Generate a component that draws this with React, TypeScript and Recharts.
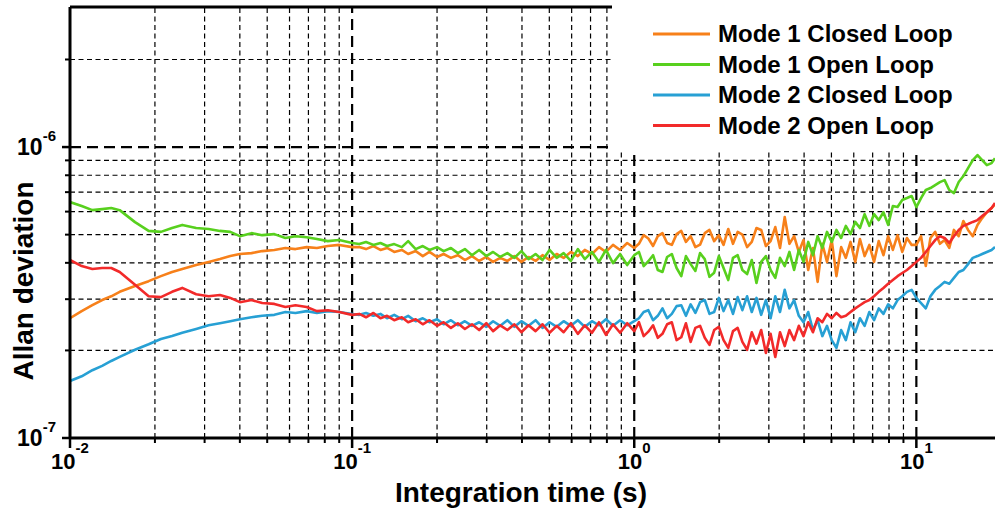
import React from 'react';
import { LineChart, Line, XAxis, YAxis, ReferenceLine } from 'recharts';

/* ─── Data (Allan deviation, values in units of 1e-7) ─── */

const TAU = [
	0.01, 0.011, 0.012, 0.013, 0.014, 0.015, 0.017, 0.019, 0.021, 0.023,
	0.025, 0.028, 0.031, 0.034, 0.037, 0.04, 0.044, 0.048, 0.053, 0.058,
	0.063, 0.069, 0.075, 0.082, 0.09, 0.1,
	0.106, 0.112, 0.119, 0.126, 0.133, 0.141, 0.15, 0.158, 0.168, 0.178,
	0.188, 0.2, 0.211, 0.224, 0.237, 0.251, 0.266, 0.282, 0.299, 0.316,
	0.335, 0.355, 0.376, 0.398, 0.422, 0.447, 0.473, 0.501, 0.531, 0.562,
	0.596, 0.631, 0.668, 0.708, 0.75, 0.794, 0.841, 0.891, 0.944, 1.0,
	1.039, 1.08, 1.122, 1.166, 1.212, 1.259, 1.308, 1.359, 1.413, 1.468,
	1.525, 1.585, 1.647, 1.711, 1.778, 1.848, 1.92, 1.995, 2.073, 2.154,
	2.239, 2.326, 2.417, 2.512, 2.61, 2.712, 2.818, 2.929, 3.043, 3.162,
	3.286, 3.415, 3.548, 3.687, 3.831, 3.981, 4.137, 4.299, 4.467, 4.642,
	4.823, 5.012, 5.208, 5.412, 5.623, 5.843, 6.072, 6.31, 6.556, 6.813,
	7.079, 7.356, 7.644, 7.943, 8.254, 8.577, 8.913, 9.261, 9.624, 10.0,
	10.39, 10.8, 11.22, 11.66, 12.12, 12.59, 13.08, 13.59, 14.13, 14.68,
	15.25, 15.85, 16.47, 17.11, 17.78, 18.48, 19.0,
];

const MODE1_CLOSED = [
	2.58, 2.73, 2.86, 2.98, 3.07, 3.18, 3.33, 3.46, 3.6, 3.72,
	3.81, 3.93, 4.03, 4.12, 4.22, 4.29, 4.32, 4.39, 4.43, 4.5,
	4.46, 4.53, 4.5, 4.57, 4.61, 4.53,
	4.53, 4.46, 4.57, 4.43, 4.5, 4.36, 4.43, 4.29, 4.39, 4.22,
	4.36, 4.19, 4.29, 4.16, 4.25, 4.09, 4.22, 4.06, 4.19, 4.03,
	4.16, 4.06, 4.22, 4.03, 4.19, 4.06, 4.25, 4.09, 4.29, 4.16,
	4.36, 4.22, 4.43, 4.29, 4.53, 4.36, 4.61, 4.43, 4.68, 4.5,
	4.65, 4.98, 4.85, 4.57, 4.94, 5.06, 4.68, 4.61, 5.02, 5.15,
	4.72, 4.94, 4.53, 4.62, 5.06, 5.19, 4.75, 4.98, 4.61, 5.23,
	4.65, 5.11, 5.0, 4.53, 4.72, 5.27, 5.19, 4.57, 4.75, 5.31,
	4.5, 5.75, 4.65, 4.94, 4.36, 4.79, 3.78, 4.5, 3.44, 4.65,
	4.03, 4.79, 3.6, 4.53, 4.16, 4.72, 4.03, 4.83, 4.22, 4.61,
	4.03, 4.75, 4.25, 4.94, 4.43, 4.98, 4.36, 4.87, 4.61, 4.61,
	4.94, 3.9, 4.87, 5.11, 4.65, 4.79, 4.5, 5.19, 4.94, 5.57,
	5.19, 4.94, 5.4, 5.7, 5.97, 6.17, 6.35,
];

const MODE1_OPEN = [
	6.47, 6.27, 6.07, 6.12, 6.17, 6.07, 5.52, 5.15, 5.11, 5.27,
	5.4, 5.27, 5.23, 5.15, 5.11, 4.94, 5.06, 4.98, 5.02, 4.87,
	4.94, 4.9, 4.83, 4.75, 4.79, 4.68,
	4.64, 4.72, 4.61, 4.68, 4.57, 4.64, 4.53, 4.75, 4.46, 4.57,
	4.43, 4.53, 4.39, 4.5, 4.32, 4.46, 4.25, 4.43, 4.22, 4.36,
	4.19, 4.32, 4.16, 4.39, 4.12, 4.29, 4.09, 4.43, 4.16, 4.32,
	4.06, 4.46, 4.12, 4.36, 4.03, 4.43, 3.99, 4.29, 3.93, 4.25,
	4.36, 3.9, 4.05, 4.25, 3.78, 3.72, 4.19, 4.29, 3.84, 3.6,
	4.22, 3.96, 3.75, 4.32, 4.12, 3.58, 3.7, 4.22, 3.84, 3.49,
	4.16, 4.25, 3.78, 3.66, 4.09, 3.41, 4.03, 4.22, 3.78, 3.55,
	4.16, 3.9, 4.36, 3.78, 4.43, 4.03, 4.72, 4.25, 4.94, 4.5,
	5.11, 4.72, 5.19, 4.87, 5.36, 5.02, 5.53, 5.27, 5.88, 5.36,
	5.88, 5.61, 5.97, 5.4, 6.27, 6.22, 6.58, 6.68, 6.79, 6.22,
	6.68, 7.12, 7.23, 7.4, 7.58, 7.7, 7.12, 6.95, 7.58, 7.95,
	8.47, 9.02, 9.39, 9.02, 8.67, 8.81, 9.16,
];

const MODE2_CLOSED = [
	1.57, 1.63, 1.71, 1.77, 1.84, 1.9, 2.01, 2.1, 2.19, 2.24,
	2.3, 2.37, 2.44, 2.48, 2.52, 2.56, 2.6, 2.63, 2.65, 2.71,
	2.69, 2.73, 2.69, 2.73, 2.71, 2.67,
	2.65, 2.69, 2.63, 2.67, 2.58, 2.65, 2.56, 2.63, 2.52, 2.58,
	2.5, 2.56, 2.46, 2.54, 2.44, 2.52, 2.43, 2.5, 2.41, 2.52,
	2.43, 2.54, 2.41, 2.52, 2.43, 2.54, 2.39, 2.5, 2.41, 2.52,
	2.43, 2.54, 2.41, 2.52, 2.44, 2.56, 2.43, 2.54, 2.44, 2.52,
	2.58, 2.71, 2.75, 2.54, 2.63, 2.79, 2.58, 2.67, 2.84, 2.86,
	2.63, 2.88, 2.69, 2.93, 2.98, 2.67, 2.71, 3.03, 2.73, 2.98,
	2.67, 3.05, 2.75, 3.07, 2.71, 3.03, 2.65, 2.98, 2.58, 3.07,
	2.71, 3.23, 2.79, 2.98, 2.63, 2.5, 2.71, 2.35, 2.54, 2.24,
	2.43, 2.17, 2.04, 2.35, 2.17, 2.5, 2.31, 2.58, 2.43, 2.71,
	2.54, 2.79, 2.67, 2.88, 2.79, 2.98, 3.07, 3.18, 3.23, 3.03,
	2.91, 2.79, 3.07, 3.23, 3.33, 3.44, 3.39, 3.55, 3.72, 3.78,
	3.96, 4.16, 4.22, 4.29, 4.36, 4.43, 4.53,
];

const MODE2_OPEN = [
	4.09, 3.9, 3.81, 3.84, 3.84, 3.72, 3.36, 3.07, 3.05, 3.18,
	3.28, 3.12, 3.07, 3.1, 3.03, 2.93, 2.98, 2.91, 2.89, 2.82,
	2.86, 2.82, 2.73, 2.75, 2.71, 2.65,
	2.67, 2.6, 2.69, 2.58, 2.63, 2.54, 2.6, 2.5, 2.56, 2.46,
	2.54, 2.43, 2.5, 2.39, 2.48, 2.37, 2.46, 2.35, 2.48, 2.33,
	2.44, 2.35, 2.46, 2.31, 2.44, 2.33, 2.46, 2.3, 2.43, 2.31,
	2.48, 2.28, 2.44, 2.3, 2.5, 2.26, 2.46, 2.3, 2.48, 2.33,
	2.5, 2.24, 2.32, 2.44, 2.21, 2.28, 2.46, 2.5, 2.17, 2.22,
	2.48, 2.14, 2.39, 2.43, 2.21, 2.09, 2.35, 2.41, 2.17, 2.04,
	2.33, 2.39, 2.14, 2.01, 2.31, 2.11, 2.35, 1.96, 2.28, 1.9,
	2.31, 2.07, 2.35, 2.17, 2.43, 2.24, 2.5, 2.31, 2.58, 2.5,
	2.67, 2.58, 2.69, 2.6, 2.63, 2.71, 2.79, 2.86, 2.93, 2.98,
	3.07, 3.18, 3.28, 3.39, 3.49, 3.6, 3.69, 3.78, 3.9, 4.03,
	4.16, 4.36, 4.57, 4.79, 4.94, 4.87, 4.68, 4.94, 5.19, 5.36,
	5.44, 5.53, 5.61, 5.79, 5.97, 6.17, 6.42,
];

const UNIT = 1e-7;

const SERIES = [
	{ key: 'm1c', name: 'Mode 1 Closed Loop', color: '#F7801A', values: MODE1_CLOSED },
	{ key: 'm1o', name: 'Mode 1 Open Loop', color: '#58D01E', values: MODE1_OPEN },
	{ key: 'm2c', name: 'Mode 2 Closed Loop', color: '#27A0D4', values: MODE2_CLOSED },
	{ key: 'm2o', name: 'Mode 2 Open Loop', color: '#F22A2A', values: MODE2_OPEN },
];

/* ─── Axes / grid ─── */

const X_DOMAIN: [number, number] = [0.01, 19];
const Y_DOMAIN: [number, number] = [1e-7, 3.03e-6];

const X_MAJOR = [0.1, 1, 10];
const X_MINOR = [
	0.02, 0.03, 0.04, 0.05, 0.06, 0.07, 0.08, 0.09,
	0.2, 0.3, 0.4, 0.5, 0.6, 0.7, 0.8, 0.9,
	2, 3, 4, 5, 6, 7, 8, 9,
];
const X_TICKS = [0.01, ...X_MINOR, ...X_MAJOR].sort((a, b) => a - b);

const Y_MAJOR = [1e-6];
const Y_MINOR = [2e-7, 3e-7, 4e-7, 5e-7, 6e-7, 7e-7, 8e-7, 9e-7, 2e-6];
const Y_TICKS = [1e-7, ...Y_MINOR, ...Y_MAJOR].sort((a, b) => a - b);

const FONT = '"Liberation Sans", Arial, sans-serif';
const GRID = '#000';

const data = TAU.map((tau, i) => {
	const row: Record<string, number> = { tau };
	SERIES.forEach((s) => {
		row[s.key] = s.values[i] * UNIT;
	});
	return row;
});

const isDecade = (v: number) =>
	Math.abs(Math.log10(v) - Math.round(Math.log10(v))) < 1e-9;

function XTick(props: any) {
	const { x, y, payload } = props;
	const v = payload.value as number;
	const major = isDecade(v);
	return (
		<g>
			<line x1={x} x2={x} y1={y} y2={y + (major ? 10 : 5)} stroke="#000" strokeWidth={major ? 2.5 : 2} />
			{major && (
				<text x={x} y={y + 31} textAnchor="middle" fontFamily={FONT} fontWeight="bold" fontSize={22} fill="#000">
					10
					<tspan dy={-16} fontSize={15}>
						{Math.round(Math.log10(v))}
					</tspan>
				</text>
			)}
		</g>
	);
}

function YTick(props: any) {
	const { x, y, payload } = props;
	const v = payload.value as number;
	const major = isDecade(v);
	return (
		<g>
			<line x1={x} x2={x - (major ? 8 : 5)} y1={y} y2={y} stroke="#000" strokeWidth={major ? 2.5 : 2} />
			{major && (
				<text x={x - 14} y={y + 8} textAnchor="end" fontFamily={FONT} fontWeight="bold" fontSize={23} fill="#000">
					10
					<tspan dy={-14} fontSize={15}>
						{Math.round(Math.log10(v))}
					</tspan>
				</text>
			)}
		</g>
	);
}

/* ─── Chart ─── */

export default function App() {
	return (
		<div
			style={{
				position: 'absolute',
				left: 0,
				top: 0,
				width: 995,
				height: 513,
				overflow: 'hidden',
				background: '#fff',
			}}
		>
			<LineChart width={995} height={513} data={data} margin={{ top: 7, right: 0, bottom: 0, left: 0 }}>
				<XAxis
					dataKey="tau"
					type="number"
					scale="log"
					domain={X_DOMAIN}
					allowDataOverflow
					ticks={X_TICKS}
					interval={0}
					tick={XTick}
					tickLine={false}
					tickSize={0}
					tickMargin={0}
					height={75}
					axisLine={{ stroke: '#000', strokeWidth: 3 }}
				/>
				<YAxis
					type="number"
					scale="log"
					domain={Y_DOMAIN}
					allowDataOverflow
					ticks={Y_TICKS}
					interval={0}
					tick={YTick}
					tickLine={false}
					tickSize={0}
					tickMargin={0}
					width={70}
					axisLine={{ stroke: '#000', strokeWidth: 3 }}
				/>

				{X_MINOR.map((v) => (
					<ReferenceLine key={`xm${v}`} x={v} stroke={GRID} strokeWidth={1.2} strokeDasharray="5 3.5" zIndex={-100} />
				))}
				{Y_MINOR.map((v) => (
					<ReferenceLine key={`ym${v}`} y={v} stroke={GRID} strokeWidth={1.2} strokeDasharray="5 3.5" zIndex={-100} />
				))}
				{X_MAJOR.map((v) => (
					<ReferenceLine key={`xM${v}`} x={v} stroke={GRID} strokeWidth={2.2} strokeDasharray="11 6" zIndex={-100} />
				))}
				{Y_MAJOR.map((v) => (
					<ReferenceLine key={`yM${v}`} y={v} stroke={GRID} strokeWidth={2.2} strokeDasharray="11 6" zIndex={-100} />
				))}
				<ReferenceLine y={Y_DOMAIN[1]} stroke="#000" strokeWidth={3} zIndex={-100} />

				{SERIES.map((s) => (
					<Line
						key={s.key}
						type="linear"
						dataKey={s.key}
						stroke={s.color}
						strokeWidth={2.6}
						strokeLinejoin="round"
						dot={false}
						activeDot={false}
						isAnimationActive={false}
					/>
				))}
			</LineChart>

			{/* legend box and axis titles */}
			<svg
				width={995}
				height={513}
				style={{ position: 'absolute', left: 0, top: 0, pointerEvents: 'none' }}
			>
				<rect x={612} y={0} width={383} height={151} fill="#fff" />
				{SERIES.map((s, i) => {
					const base = 42 + i * 30.5;
					return (
						<g key={s.key}>
							<line x1={653} x2={710} y1={base - 8} y2={base - 8} stroke={s.color} strokeWidth={3} />
							<text x={718} y={base} fontFamily={FONT} fontWeight="bold" fontSize={24} fill="#000">
								{s.name}
							</text>
						</g>
					);
				})}
				<text
					x={521}
					y={502}
					textAnchor="middle"
					fontFamily={FONT}
					fontWeight="bold"
					fontSize={28}
					fill="#000"
				>
					Integration time (s)
				</text>
				<text
					transform="translate(33 281) rotate(-90)"
					textAnchor="middle"
					fontFamily={FONT}
					fontWeight="bold"
					fontSize={28}
					fill="#000"
				>
					Allan deviation
				</text>
			</svg>
		</div>
	);
}
